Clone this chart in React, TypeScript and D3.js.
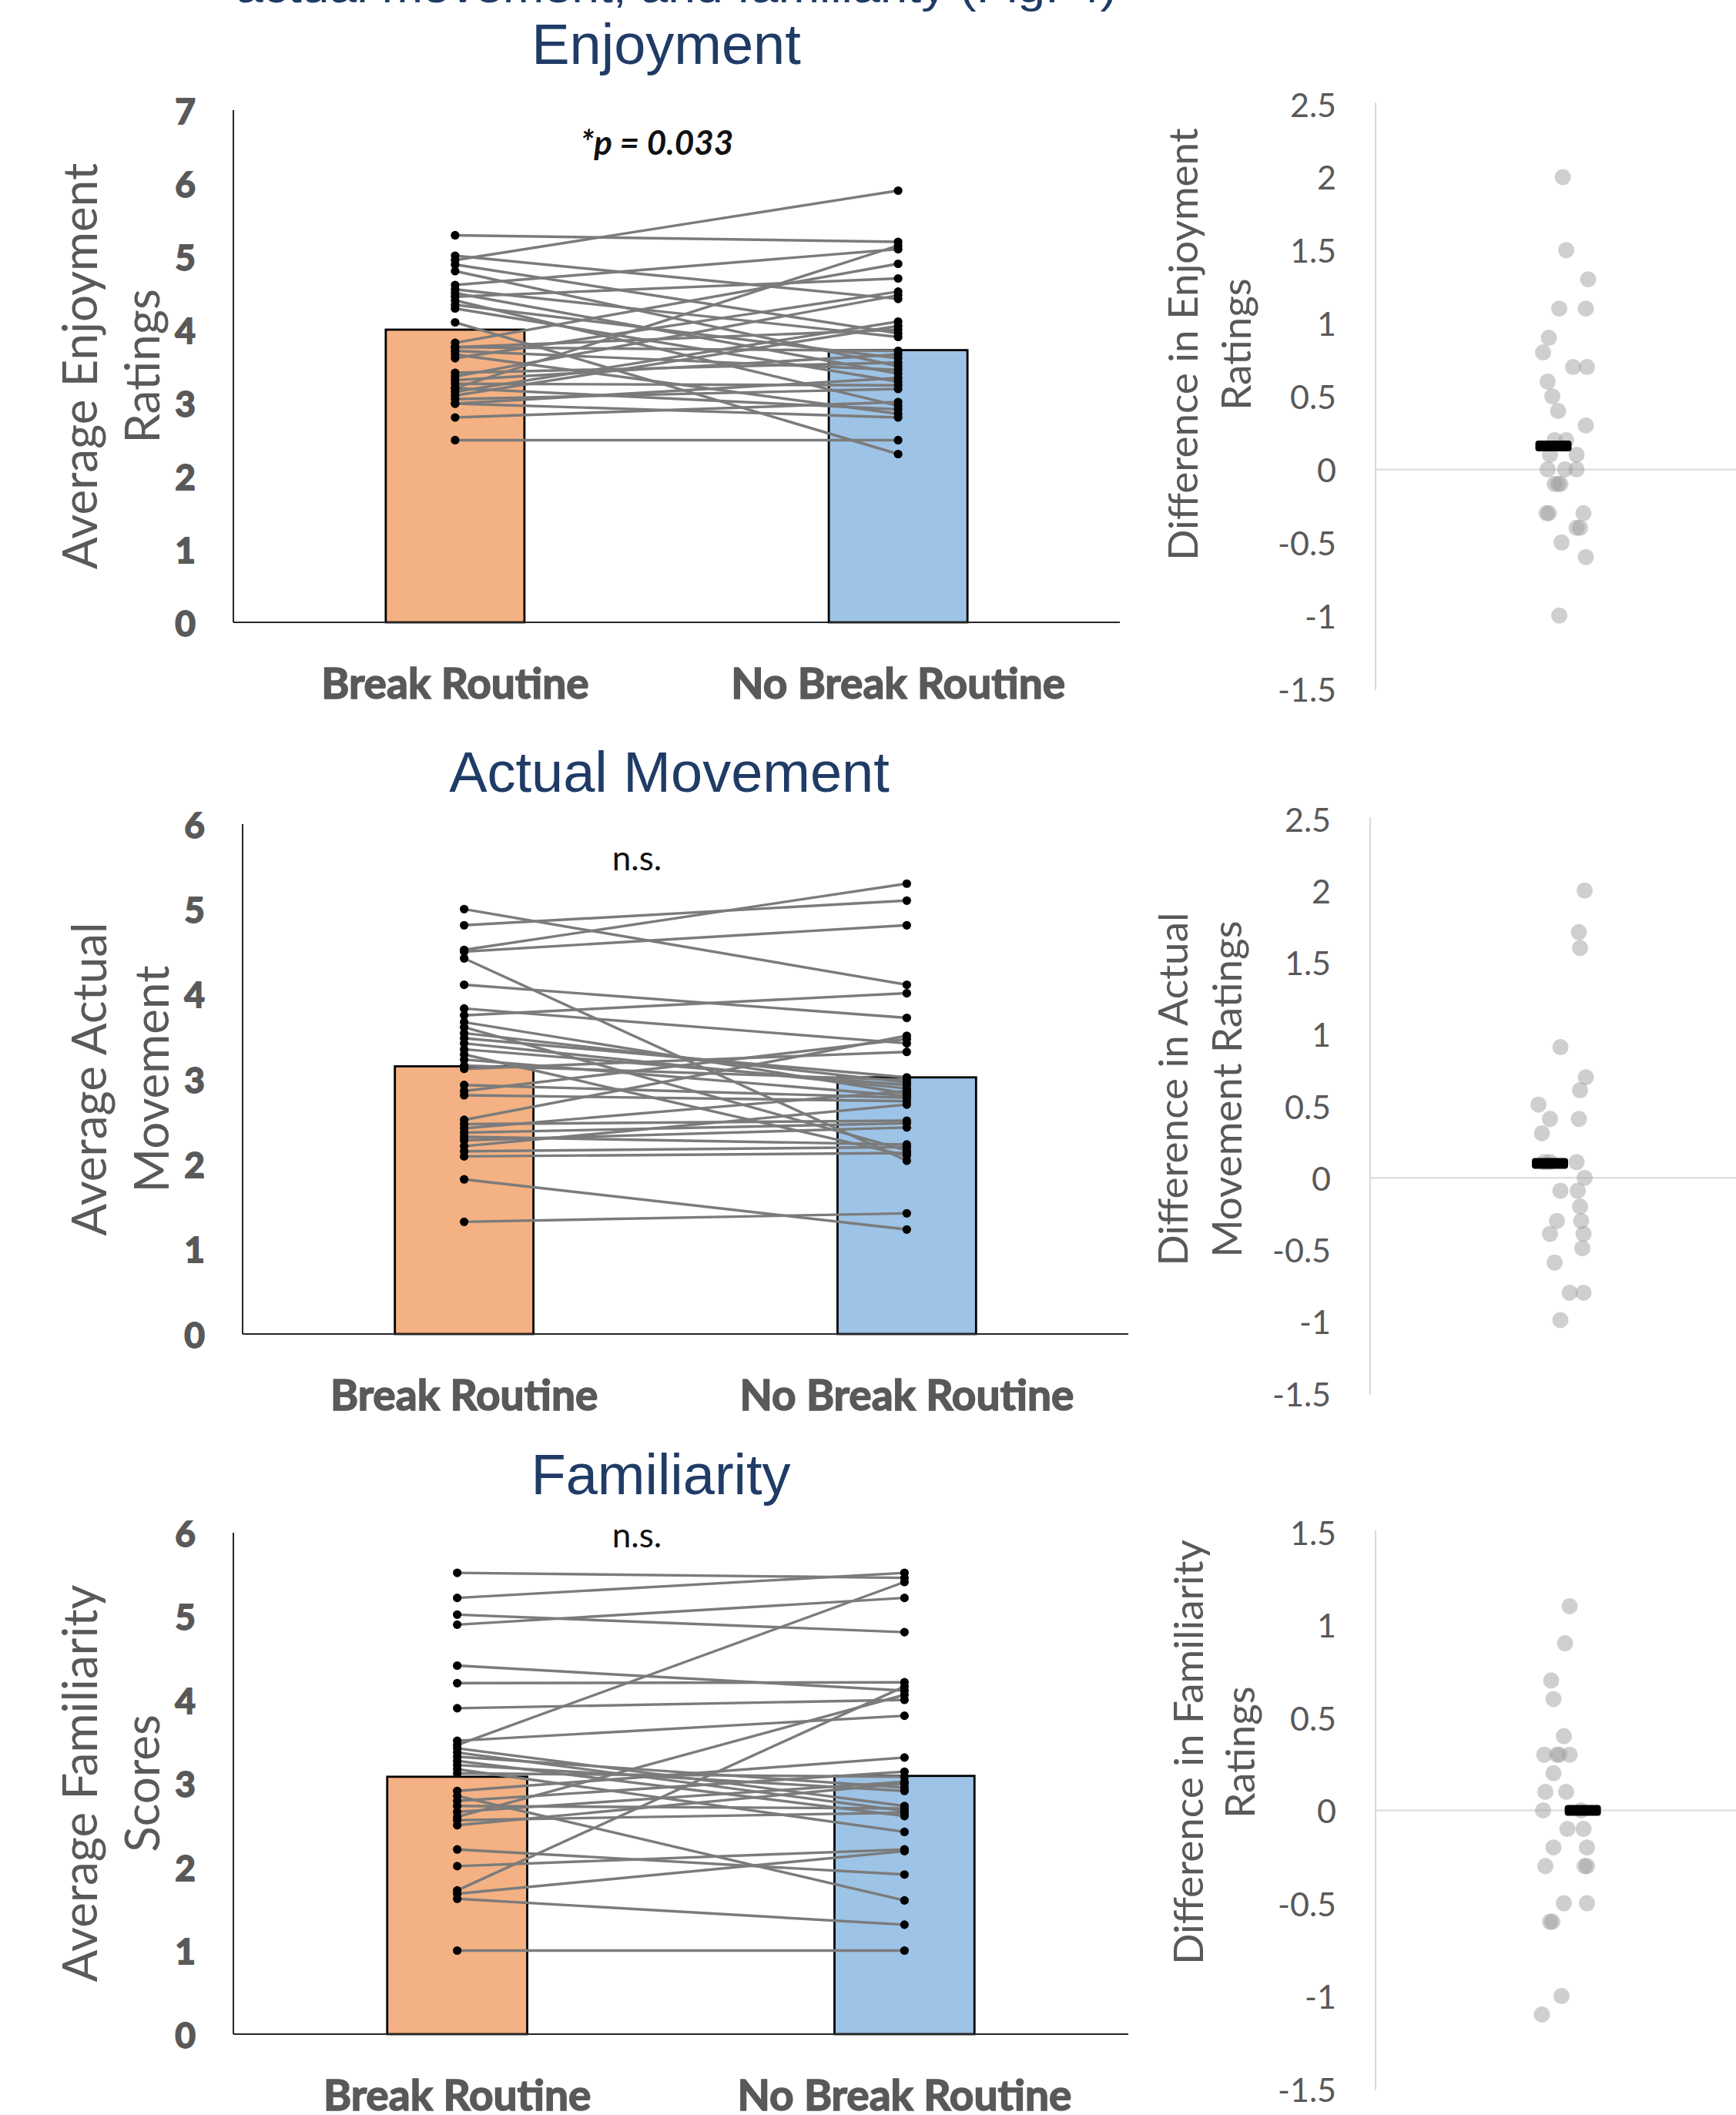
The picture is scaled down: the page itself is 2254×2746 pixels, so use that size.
import React from "react";
import * as d3 from "d3";

// ---- data ----
const groups = ["Break Routine", "No Break Routine"];

// Enjoyment: one value per participant, same order in both arrays
const enjoyBreak = [5.29, 5.01, 4.95, 4.89, 4.8, 4.61, 4.55, 4.5, 4.45, 4.4, 4.34, 4.29, 4.1, 3.82, 3.76, 3.71, 3.66, 3.61, 3.41, 3.36, 3.31, 3.26, 3.2, 3.15, 3.1, 3.05, 2.99, 2.8, 2.49, 3.2, 3.76, 2.99];
const enjoyNoBreak = [5.2, 4.42, 5.9, 3.95, 3.5, 5.1, 3.9, 3.4, 4.7, 2.96, 3.61, 3.29, 2.3, 4.9, 3.71, 3.45, 2.85, 4.52, 3.55, 4.47, 3.66, 3.24, 2.91, 4.11, 4.05, 3.19, 3.34, 3.01, 2.49, 5.15, 4.0, 2.8];
const enjoyMeans = [4.0, 3.72];

// Actual movement
const moveBreak = [5.0, 4.81, 4.52, 4.5, 4.42, 4.11, 3.83, 3.75, 3.67, 3.61, 3.54, 3.48, 3.42, 3.35, 3.29, 3.23, 3.16, 3.12, 2.93, 2.86, 2.81, 2.52, 2.47, 2.42, 2.37, 2.32, 2.28, 2.21, 2.15, 2.09, 1.82, 1.32];
const moveNoBreak = [4.11, 5.1, 5.3, 4.81, 2.04, 3.72, 3.42, 4.01, 2.83, 2.16, 2.96, 3.02, 2.89, 2.93, 2.1, 2.8, 2.99, 3.32, 2.78, 3.47, 2.74, 3.51, 2.51, 2.86, 2.48, 2.23, 2.43, 2.7, 2.2, 2.13, 1.23, 1.42];
const moveMeans = [3.15, 3.02];

// Familiarity
const famBreak = [5.52, 5.22, 5.02, 4.9, 4.41, 4.2, 3.9, 3.51, 3.46, 3.42, 3.37, 3.32, 3.27, 3.22, 3.17, 3.12, 2.91, 2.85, 2.79, 2.73, 2.66, 2.6, 2.56, 2.5, 2.21, 2.01, 1.72, 1.68, 1.62, 1.0];
const famNoBreak = [5.46, 5.52, 4.81, 5.22, 4.11, 4.21, 4.0, 3.81, 5.41, 2.73, 2.67, 2.95, 2.61, 2.91, 2.42, 3.08, 3.31, 1.6, 3.14, 2.7, 3.02, 4.06, 2.65, 3.0, 1.91, 2.21, 4.16, 2.19, 1.31, 1.0];
const famMeans = [3.08, 3.09];

// difference plots: [difference, horizontal jitter (-1..1)]
const enjoyDiff = [
  [2.0, -0.1], [1.5, 0.05], [1.3, 1.0], [1.1, -0.25], [1.1, 0.9], [0.9, -0.7], [0.8, -0.95],
  [0.7, 0.35], [0.7, 0.95], [0.6, -0.75], [0.5, -0.55], [0.4, -0.3], [0.3, 0.9], [0.2, -0.45],
  [0.2, 0.05], [0.1, -0.65], [0.1, 0.5], [0.0, -0.75], [0.0, 0.0], [0.0, 0.5], [-0.1, -0.45],
  [-0.1, -0.2], [-0.1, -0.3], [-0.3, -0.8], [-0.3, -0.7], [-0.3, 0.8], [-0.4, 0.5], [-0.4, 0.65],
  [-0.5, -0.15], [-0.6, 0.9], [-1.0, -0.25],
];
const moveDiff = [
  [2.0, 0.95], [1.71, 0.7], [1.6, 0.75], [0.91, -0.1], [0.7, 1.0], [0.61, 0.75], [0.51, -1.05],
  [0.41, -0.55], [0.41, 0.7], [0.31, -0.9], [0.11, -0.8], [0.11, -0.55], [0.11, 0.6], [0.0, 0.95],
  [-0.09, -0.1], [-0.09, 0.65], [-0.2, 0.75], [-0.3, -0.25], [-0.3, 0.8], [-0.39, -0.55],
  [-0.39, 0.9], [-0.49, 0.85], [-0.59, -0.35], [-0.8, 0.3], [-0.8, 0.9], [-0.99, -0.1],
];
const famDiff = [
  [1.1, 0.2], [0.9, 0.0], [0.7, -0.6], [0.6, -0.5], [0.4, -0.05], [0.3, -0.9], [0.3, -0.35],
  [0.3, -0.25], [0.3, 0.2], [0.2, -0.5], [0.1, -0.85], [0.1, 0.05], [0.0, -0.95], [0.0, 0.7],
  [-0.1, 0.1], [-0.1, 0.8], [-0.2, -0.5], [-0.2, 0.95], [-0.3, -0.85], [-0.3, 0.85], [-0.3, 0.95],
  [-0.5, -0.05], [-0.5, 0.95], [-0.6, -0.65], [-0.6, -0.55], [-1.0, -0.15], [-1.1, -1.0],
];
// mean markers: [value, jitter]
const enjoyDiffMean = [0.16, -0.5];
const moveDiffMean = [0.1, -0.55];
const famDiffMean = [0.0, 0.77];

const ticks0to7 = [0, 1, 2, 3, 4, 5, 6, 7];
const ticks0to6 = [0, 1, 2, 3, 4, 5, 6];
const diffTicksWide = [-1.5, -1, -0.5, 0, 0.5, 1, 1.5, 2, 2.5];
const diffTicksNarrow = [-1.5, -1, -0.5, 0, 0.5, 1, 1.5];

const W = 2254;
const H = 2746;
const CAL = "Lato, 'Open Sans', sans-serif";
const ARIAL = "'Liberation Sans', Arial, sans-serif";
const GREY_TXT = "#595959";
const NAVY = "#1f3b66";
const barColors = ["#f4b183", "#9dc3e6"];

function PairedChart({ left, right, means, max, ticks, ax, axEnd, y0, yTop, label, stat, statX, statY, statItalic }) {
  const x = d3.scaleBand().domain(groups).range([ax, axEnd]).paddingInner(0.687).paddingOuter(0.344);
  const y = d3.scaleLinear().domain([0, max]).range([y0, yTop]);
  const cx = groups.map((g) => x(g) + x.bandwidth() / 2);
  const ymid = (y0 + yTop) / 2;
  return (
    <g>
      {groups.map((g, i) => (
        <rect key={g} x={x(g)} y={y(means[i])} width={x.bandwidth()} height={y0 - y(means[i])}
          fill={barColors[i]} stroke="#000" strokeWidth={2.8} />
      ))}
      {left.map((v, i) => (
        <line key={"l" + i} x1={cx[0]} y1={y(v)} x2={cx[1]} y2={y(right[i])} stroke="#7b7b7b" strokeWidth={3.4} />
      ))}
      {left.map((v, i) => <circle key={"a" + i} cx={cx[0]} cy={y(v)} r={5.6} fill="#000" />)}
      {right.map((v, i) => <circle key={"b" + i} cx={cx[1]} cy={y(v)} r={5.6} fill="#000" />)}
      <line x1={ax} x2={ax} y1={yTop} y2={y0} stroke="#262626" strokeWidth={2} />
      <line x1={ax} x2={axEnd} y1={y0} y2={y0} stroke="#262626" strokeWidth={2} />
      {ticks.map((t) => (
        <text key={t} x={ax - 49} y={y(t)} textAnchor="end" dominantBaseline="central"
          fontFamily={CAL} fontWeight={700} fontSize={46} fill={GREY_TXT}
          stroke={GREY_TXT} strokeWidth={1.8}>{t}</text>
      ))}
      {groups.map((g, i) => (
        <text key={g} x={cx[i]} y={y0 + 99} textAnchor="middle" fontFamily={CAL} fontWeight={700}
          fontSize={55} fill={GREY_TXT} stroke={GREY_TXT} strokeWidth={1.6}>{g}</text>
      ))}
      {label.map((s, i) => (
        <text key={s} transform={`translate(${ax - 201 + i * 81},${ymid}) rotate(-90)`} textAnchor="middle"
          dominantBaseline="central" fontFamily={CAL} fontSize={62} fill={GREY_TXT}>{s}</text>
      ))}
      <text x={statX} y={statY} textAnchor="middle" fontFamily={CAL} fontSize={44}
        fontWeight={statItalic ? 700 : 400} fontStyle={statItalic ? "italic" : "normal"} fill="#111">{stat}</text>
    </g>
  );
}

function DiffChart({ data, mean, domain, ticks, ax, yTop, yBottom, cx, label, labelOff, labelY }) {
  const y = d3.scaleLinear().domain(domain).range([yBottom, yTop]);
  const jx = d3.scaleLinear().domain([-1, 1]).range([cx - 30, cx + 30]);
  return (
    <g>
      <line x1={ax} x2={ax} y1={yTop - 2} y2={yBottom + 2} stroke="#d9d9d9" strokeWidth={2} />
      <line x1={ax} x2={W} y1={y(0)} y2={y(0)} stroke="#d9d9d9" strokeWidth={2} />
      {ticks.map((t) => (
        <text key={t} x={ax - 51} y={y(t)} textAnchor="end" dominantBaseline="central"
          fontFamily={CAL} fontSize={43} fill={GREY_TXT}>{String(t)}</text>
      ))}
      {data.map(([v, j], i) => (
        <circle key={i} cx={jx(j)} cy={y(v)} r={10.5} fill="#a0a0a0" fillOpacity={0.5} />
      ))}
      <rect x={jx(mean[1]) - 23.5} y={y(mean[0]) - 7} width={47} height={14} rx={4} fill="#000" />
      {label.map((s, i) => (
        <text key={s} transform={`translate(${ax + labelOff[i]},${labelY}) rotate(-90)`} textAnchor="middle"
          dominantBaseline="central" fontFamily={CAL} fontSize={53} fill={GREY_TXT}>{s}</text>
      ))}
    </g>
  );
}

export default function App() {
  return (
    <svg width={W} height={H} style={{ position: "absolute", left: 0, top: 0, background: "#fff" }}>
      <rect width={W} height={H} fill="#fff" />
      <text x={306} y={3} fontFamily={ARIAL} fontSize={56} fill={NAVY} textLength={1144}
        lengthAdjust="spacingAndGlyphs">actual movement, and familiarity (Fig. 4)</text>

      {/* Enjoyment */}
      <text x={865} y={83} textAnchor="middle" fontFamily={ARIAL} fontSize={74} fill={NAVY}>Enjoyment</text>
      <PairedChart left={enjoyBreak} right={enjoyNoBreak} means={enjoyMeans} max={7} ticks={ticks0to7}
        ax={303} axEnd={1454} y0={808} yTop={143} label={["Average Enjoyment", "Ratings"]}
        stat="*p = 0.033" statX={853} statY={201} statItalic />
      <DiffChart data={enjoyDiff} mean={enjoyDiffMean} domain={[-1.5, 2.5]} ticks={diffTicksWide}
        ax={1786} yTop={135} yBottom={894} cx={2032}
        label={["Difference in Enjoyment", "Ratings"]} labelOff={[-252, -183]} labelY={447} />

      {/* Actual Movement */}
      <text x={869} y={1028} textAnchor="middle" fontFamily={ARIAL} fontSize={74} fill={NAVY}>Actual Movement</text>
      <PairedChart left={moveBreak} right={moveNoBreak} means={moveMeans} max={6} ticks={ticks0to6}
        ax={315} axEnd={1465} y0={1732} yTop={1070} label={["Average Actual", "Movement"]}
        stat="n.s." statX={827} statY={1130} />
      <DiffChart data={moveDiff} mean={moveDiffMean} domain={[-1.5, 2.5]} ticks={diffTicksWide}
        ax={1779} yTop={1063} yBottom={1809} cx={2029}
        label={["Difference in Actual", "Movement Ratings"]} labelOff={[-258, -188]} labelY={1414} />

      {/* Familiarity */}
      <text x={858} y={1940} textAnchor="middle" fontFamily={ARIAL} fontSize={74} fill={NAVY}>Familiarity</text>
      <PairedChart left={famBreak} right={famNoBreak} means={famMeans} max={6} ticks={ticks0to6}
        ax={303} axEnd={1465} y0={2641} yTop={1990} label={["Average Familiarity", "Scores"]}
        stat="n.s." statX={827} statY={2009} />
      <DiffChart data={famDiff} mean={famDiffMean} domain={[-1.5, 1.5]} ticks={diffTicksNarrow}
        ax={1786} yTop={1989} yBottom={2712} cx={2032}
        label={["Difference in Familiarity", "Ratings"]} labelOff={[-245, -178]} labelY={2275} />
    </svg>
  );
}
